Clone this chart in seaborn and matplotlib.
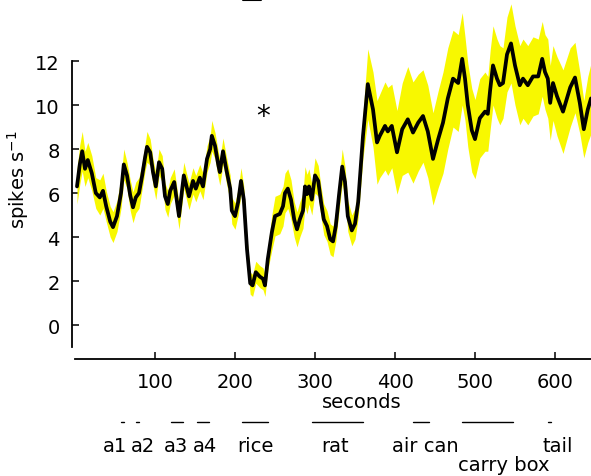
import numpy as np
import pandas as pd
import seaborn as sns
import matplotlib.pyplot as plt
import matplotlib.transforms as mtransforms
from matplotlib.lines import Line2D

# ---------------- data ----------------
seconds = [2.5, 6, 9, 12.5, 16, 21, 26, 31, 35, 39, 44, 47.5, 52.5, 57.5, 61, 65, 69, 72.5,
           76, 80, 84, 87.5, 90, 94, 97.5, 101, 105, 109, 112.5, 116, 119, 124, 130, 136,
           142.5, 147.5, 151, 156, 160, 165, 169, 171, 175, 179, 181, 185, 189, 194, 196,
           200, 204, 207.5, 211, 215, 219, 222, 226, 231, 235, 237.5, 241, 246, 250, 256,
           260, 262.5, 266, 270, 274, 277.5, 281, 285, 287.5, 290, 292.5, 296, 300, 304,
           307.5, 311, 315, 319, 322.5, 326, 330, 334, 337.5, 341, 346, 350, 354, 360, 366,
           372.5, 377.5, 381, 387.5, 391, 396, 402.5, 409, 416, 422.5, 429, 435, 441, 447.5,
           454, 460, 466, 472.5, 479, 484, 487.5, 491, 496, 500, 506, 512.5, 516, 519, 522.5,
           527.5, 531, 535, 540, 545, 550, 556, 560, 566, 572.5, 579, 584, 587.5, 591, 594,
           597.5, 602.5, 610, 619, 625, 631, 636, 641, 645]

rate = [6.3, 7.3, 7.9, 7.1, 7.5, 6.9, 6.0, 5.8, 6.1, 5.4, 4.7, 4.45, 4.95, 6.0, 7.3, 6.8, 5.9,
        5.35, 5.8, 6.0, 6.8, 7.6, 8.1, 7.85, 6.95, 6.3, 7.4, 7.1, 5.85, 5.5, 6.1, 6.5, 4.95,
        6.8, 5.85, 6.55, 6.2, 6.7, 6.3, 7.55, 8.0, 8.6, 8.15, 7.3, 6.95, 7.9, 7.1, 6.2, 5.2,
        4.95, 5.6, 6.55, 5.7, 3.45, 1.9, 1.8, 2.4, 2.2, 2.1, 1.8, 3.0, 4.2, 4.95, 5.05, 5.4,
        6.0, 6.2, 5.7, 4.8, 4.35, 4.8, 5.2, 6.3, 5.95, 6.3, 5.7, 6.8, 6.55, 5.6, 4.8, 4.5,
        3.9, 3.8, 4.5, 5.9, 7.2, 6.5, 4.95, 4.3, 4.6, 5.6, 8.6, 10.95, 9.8, 8.3, 8.6, 9.05,
        8.8, 9.05, 7.85, 8.9, 9.35, 8.75, 9.2, 9.5, 8.8, 7.55, 8.45, 9.2, 10.3, 11.2, 11.0,
        12.1, 11.2, 10.0, 8.85, 8.45, 9.4, 9.7, 9.6, 10.7, 11.8, 11.2, 10.9, 11.0, 12.3,
        12.8, 11.8, 10.9, 11.2, 10.9, 11.3, 11.3, 12.1, 11.5, 11.2, 10.1, 11.0, 10.4, 9.7,
        10.8, 11.25, 10.1, 8.9, 9.8, 10.3]

sem = [0.8, 0.9, 0.9, 0.8, 0.8, 0.8, 0.7, 0.8, 0.8,
       0.7, 0.7, 0.7, 0.7, 0.7, 0.7, 0.6, 0.7, 0.7, 0.7, 0.7,
       0.6, 0.6, 0.7, 0.6, 0.6, 0.6, 0.6, 0.6, 0.6, 0.6, 0.6, 0.6, 0.6, 0.6, 0.6, 0.6,
       0.6, 0.6, 0.6, 0.6, 0.6, 0.7, 0.6, 0.6, 0.6, 0.6, 0.6, 0.6, 0.6, 0.6, 0.6, 0.6, 0.6,
       0.5, 0.5, 0.5, 0.5, 0.5, 0.5, 0.5, 0.5,
       0.8, 0.9, 0.9, 0.9, 0.9, 0.9, 0.9, 0.8, 0.8, 0.8, 0.8, 0.9, 0.9, 0.8,
       0.7, 0.8, 0.7, 0.7, 0.7, 0.7, 0.7, 0.7, 0.7, 0.7, 0.8, 0.7, 0.7, 0.7, 0.7, 0.7,
       1.0,
       1.6, 1.7, 1.9, 1.9, 2.0, 2.0, 1.9, 1.9, 2.1,
       2.4, 2.3, 2.2, 2.1, 2.1, 2.1, 2.2, 2.3, 2.3, 2.2, 2.2, 2.1,
       1.9, 1.9, 1.9, 1.8, 1.8, 1.8, 1.7, 1.8, 1.8, 1.8, 1.8, 1.6, 1.7, 1.8, 1.8,
       1.8, 1.8, 1.8, 1.8, 1.7, 1.7, 1.7, 1.8, 1.7, 1.7, 1.8, 1.9, 1.8, 1.6, 1.4, 1.3, 1.5, 1.6]

event_names = ["a1", "a2", "a3", "a4", "rice", "rat", "air can", "carry box", "tail"]
event_start = [57.5, 76, 120, 152, 209, 296, 422, 484, 591]
event_end = [61, 80, 135, 167, 241, 360, 442, 548, 595]
label_x = [50, 85, 126, 162.5, 225, 325, 437.5, 536, 604]
label_row = [0, 0, 0, 0, 0, 0, 0, 1, 0]

x_ticks = [100, 200, 300, 400, 500, 600]
y_ticks = [0, 2, 4, 6, 8, 10, 12]

# ---------------- figure ----------------
sns.set_theme(style="white")
plt.rcParams['font.family'] = ['DejaVu Sans']
plt.rcParams['mathtext.fontset'] = 'dejavusans'

W, H = 591, 477
fig = plt.figure(figsize=(W / 100, H / 100), dpi=100)
ax = fig.add_axes([75 / W, 1 - 360 / H, 1 - 75 / W, 360 / H])

df = pd.DataFrame({"seconds": seconds, "rate": rate, "sem": sem})
ax.fill_between(df["seconds"], df["rate"] - df["sem"], df["rate"] + df["sem"],
                color="#f8f800", linewidth=0, zorder=1)
sns.lineplot(data=df, x="seconds", y="rate", color="black", linewidth=2.7, ax=ax, zorder=2)

ax.set_xlim(0, 645)
ax.set_ylim(-1.545, 14.82)
ax.set_xticks(x_ticks)
ax.set_yticks(y_ticks)
ax.set_xticklabels([str(v) for v in x_ticks])
ax.set_yticklabels([str(v) for v in y_ticks])

for s in ["top", "right"]:
    ax.spines[s].set_visible(False)
for s in ["left", "bottom"]:
    ax.spines[s].set_color("black")
    ax.spines[s].set_linewidth(1.3)
ax.spines["left"].set_bounds(-1, 12)
ax.spines["left"].set_position(("outward", 2))

ax.tick_params(left=True, bottom=True, direction="in", length=5, width=1.1,
               colors="black", labelsize=14)
ax.tick_params(axis="x", pad=9)
ax.tick_params(axis="y", pad=9)

ax.set_xlabel("")
ax.set_ylabel("spikes s$^{-1}$", fontsize=14, color="black")
ax.yaxis.set_label_coords(-0.085, 0.5)

trans = mtransforms.blended_transform_factory(ax.transData, ax.transAxes)
ax.text(359, -0.117, "seconds", transform=trans, ha="center", va="center",
        fontsize=14, color="black", clip_on=False)

row_y = [-0.239, -0.292]
for name, s0, s1, lx, r in zip(event_names, event_start, event_end, label_x, label_row):
    ax.plot([s0, s1], [-0.175, -0.175], color="black", linewidth=1.0,
            transform=trans, clip_on=False)
    ax.text(lx, row_y[r], name, transform=trans, ha="center", va="center",
            fontsize=14, color="black", clip_on=False)

ax.text(235, 9.5, "*", ha="center", va="center", fontsize=20, color="black")

fig.add_artist(Line2D([243 / W, 261 / W], [1 - 1 / H, 1 - 1 / H], color="black", linewidth=1.5))

fig.savefig("out.png", dpi=100)
